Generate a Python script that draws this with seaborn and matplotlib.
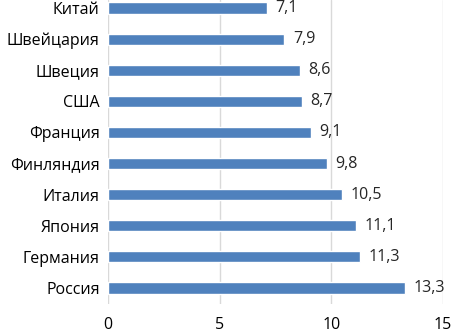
import matplotlib
matplotlib.use("Agg")
import matplotlib.pyplot as plt
import seaborn as sns
import pandas as pd

countries = ["Китай", "Швейцария", "Швеция", "США", "Франция",
             "Финляндия", "Италия", "Япония", "Германия", "Россия"]
values = [7.1, 7.9, 8.6, 8.7, 9.1, 9.8, 10.5, 11.1, 11.3, 13.3]
labels = ["7,1", "7,9", "8,6", "8,7", "9,1", "9,8", "10,5", "11,1", "11,3", "13,3"]

df = pd.DataFrame({"country": countries, "value": values})

sns.set_style("white")
plt.rcParams['font.family'] = ['Open Sans', 'DejaVu Sans']

fig = plt.figure(figsize=(4.52, 3.33), dpi=100)
ax = fig.add_axes([108 / 452, 1 - 303.5 / 333, 335 / 452, 303.5 / 333])

sns.barplot(data=df, x="value", y="country", orient="h", color="#4F81BD",
            width=0.36, saturation=1, ax=ax, zorder=3)

ax.set_xlim(0, 15)
ax.set_ylim(9.5, -0.26)
ax.set_xticks([0, 5, 10, 15])
ax.grid(axis="x", color="#d9d9d9", linewidth=1, zorder=0)
for s in ax.spines.values():
    s.set_visible(False)
ax.tick_params(axis="both", length=0, labelsize=11.5, colors="black")
ax.tick_params(axis="x", pad=10)
ax.tick_params(axis="y", pad=6)
ax.set_xlabel("")
ax.set_ylabel("")

ax.bar_label(ax.containers[0], labels=labels, padding=6, fontsize=11.5)

fig.savefig("out.png", dpi=100)
